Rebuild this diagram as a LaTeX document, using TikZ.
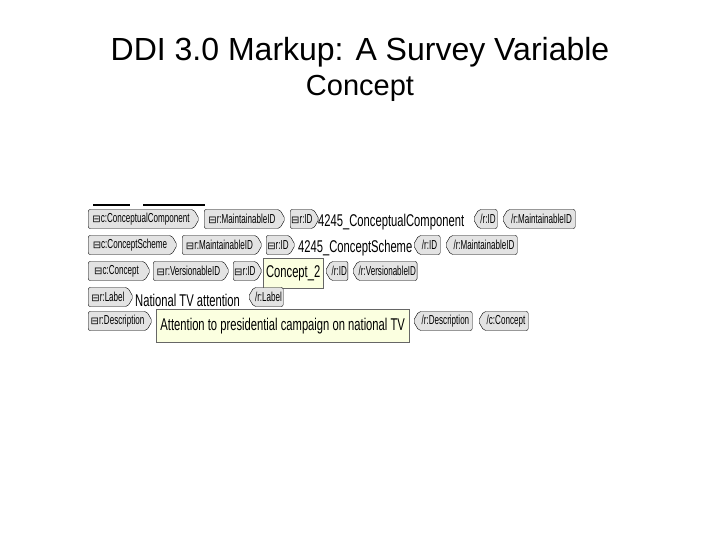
\documentclass[tikz,border=0pt]{standalone}
\usepackage{fontspec}
\setmainfont{Liberation Sans}
\newfontfamily\dvs{DejaVu Sans}
\usetikzlibrary{shapes.symbols}
\newcommand\tg[1]{\scalebox{0.62}[1]{#1}}
\newcommand\vt[1]{\scalebox{0.66}[1]{#1}}
\newcommand\mb{{\dvs\fontsize{10}{10}\selectfont ⊟}}
\begin{document}
\begin{tikzpicture}[x=1pt,y=-1pt,
  base/.style={draw=black,fill=gray!22,rounded corners=2pt,inner sep=1pt,minimum height=19pt,font=\fontsize{13}{13}\selectfont,anchor=west,signal pointer angle=120},
  stag/.style={base,shape=signal,signal to=east},
  etag/.style={base,shape=signal,signal to=west},
  val/.style={font=\fontsize{17}{17}\selectfont,anchor=west,inner sep=0pt},
  gbox/.style={draw=black!60,fill=green!12!yellow!12,anchor=west,inner sep=2pt,font=\fontsize{17}{17}\selectfont}]
\useasboundingbox[fill=white] (0,0) rectangle (720,540);
\node[font=\fontsize{32}{32}\selectfont] (t1) at (360,52) {DDI 3.0 Markup: A Survey Variable};
\node[font=\fontsize{29}{29}\selectfont] (t2) at (360,88) {Concept};
\draw[line width=1.2pt] (93,205) -- (130,205) (143,205) -- (205,205);
% row 1
\node[stag,minimum width=111pt] (a1) at (88,219) {\mb\tg{c:ConceptualComponent}};
\node[stag,minimum width=81pt] (a2) at (204,219) {\mb\tg{r:MaintainableID}};
\node[stag,minimum width=26pt] (a3) at (290,219) {\mb\tg{r:ID}};
\node[val] (a4) at (318,222) {\vt{4245\_ConceptualComponent}};
\node[etag,minimum width=24pt] (a5) at (473,219) {\tg{/r:ID}};
\node[etag,minimum width=73pt] (a6) at (502,219) {\tg{/r:MaintainableID}};
% row 2
\node[stag,minimum width=89pt] (b1) at (88,245) {\mb\tg{c:ConceptScheme}};
\node[stag,minimum width=80pt] (b2) at (182,245) {\mb\tg{r:MaintainableID}};
\node[stag,minimum width=29pt] (b3) at (266,245) {\mb\tg{r:ID}};
\node[val] (b4) at (298,248) {\vt{4245\_ConceptScheme}};
\node[etag,minimum width=27pt] (b5) at (413,245) {\tg{/r:ID}};
\node[etag,minimum width=72pt] (b6) at (445,245) {\tg{/r:MaintainableID}};
% row 3
\node[stag,minimum width=62pt] (c1) at (88,271) {\mb\tg{c:Concept}};
\node[stag,minimum width=76pt] (c2) at (153,271) {\mb\tg{r:VersionableID}};
\node[stag,minimum width=27pt] (c3) at (233,271) {\mb\tg{r:ID}};
\node[gbox,minimum width=60pt,minimum height=30pt] (c4) at (263,273) {\vt{Concept\_2}};
\node[etag,minimum width=22pt] (c5) at (325,271) {\tg{/r:ID}};
\node[etag,minimum width=45pt] (c6) at (352,271) {\tg{/r:VersionableID}};
% row 4
\node[stag,minimum width=45pt] (d1) at (88,297) {\mb\tg{r:Label}};
\node[val] (d2) at (135,300) {\vt{National TV attention}};
\node[etag,minimum width=35pt] (d3) at (248,297) {\tg{/r:Label}};
% row 5
\node[stag,minimum width=64pt] (e1) at (88,321) {\mb\tg{r:Description}};
\node[gbox,minimum width=253pt,minimum height=33pt] (e2) at (156,326) {\vt{Attention to presidential campaign on national TV}};
\node[etag,minimum width=59pt] (e3) at (413,321) {\tg{/r:Description}};
\node[etag,minimum width=50pt] (e4) at (478,321) {\tg{/c:Concept}};
\end{tikzpicture}
\end{document}
